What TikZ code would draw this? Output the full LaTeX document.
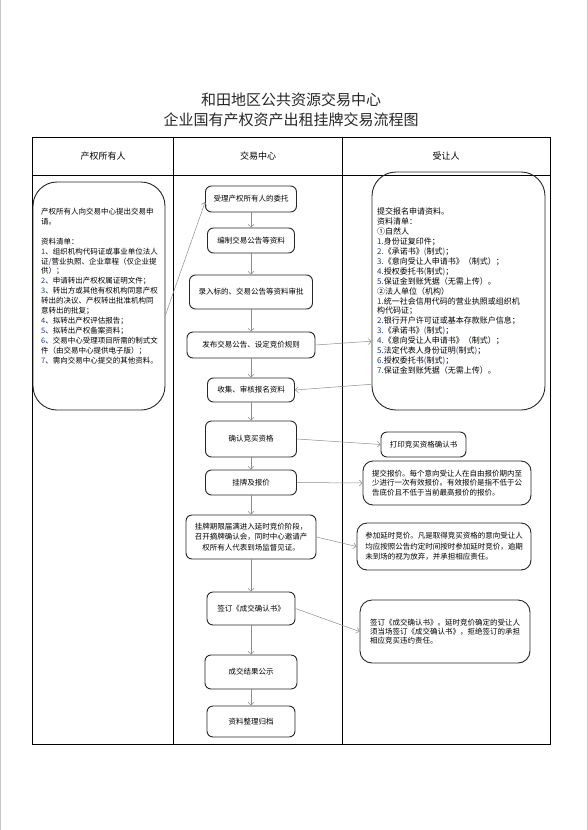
\documentclass[tikz,border=0pt]{standalone}
\usepackage{fontspec}
\setmainfont{Noto Sans CJK SC}
\usetikzlibrary{positioning, arrows.meta}
\definecolor{numblue}{RGB}{31,56,130}
\newcommand{\nb}[1]{\textcolor{numblue}{#1}}

\begin{document}
\begin{tikzpicture}[
  x=1pt, y=-1pt,
  every node/.style={font=\fontsize{7.5}{9.2}\selectfont, inner sep=0pt},
  lane/.style={black, line width=0.9pt},
  cbox/.style={draw=black!85, line width=0.9pt, rounded corners=6pt, align=center},
  rbox/.style={draw=black!85, line width=0.9pt, rounded corners=10pt, align=left},
  bigbox/.style={draw=black!85, line width=0.9pt, rounded corners=24pt},
  flow/.style={black!45, line width=0.5pt, -{Straight Barb[length=3pt,width=6pt]}},
]
\useasboundingbox (0,0) rectangle (588,830);

% page edges
\draw[black!22, line width=1.2pt] (0.6,0) -- (0.6,830);
\draw[black!22, line width=1.2pt] (587.4,0) -- (587.4,830);

% title
\node[font=\fontsize{15}{18}\selectfont, text=black!85] (title1) at (291,100) {和田地区公共资源交易中心};
\node[font=\fontsize{15}{18}\selectfont, text=black!85] (title2) at (291,120) {企业国有产权资产出租挂牌交易流程图};

% swim lanes
\draw[lane] (32,137) rectangle (550,744);
\draw[lane] (32,175) -- (550,175);
\draw[lane] (173,137) -- (173,744);
\draw[lane] (342,137) -- (342,744);
\node[font=\fontsize{9}{11}\selectfont] (hOwner)  at (103,156) {产权所有人};
\node[font=\fontsize{9}{11}\selectfont] (hCenter) at (258,156) {交易中心};
\node[font=\fontsize{9}{11}\selectfont] (hBuyer)  at (446,156) {受让人};

% owner lane
\node[bigbox, minimum width=132pt, minimum height=228pt] (owner) at (99,296) {};
\node[anchor=north west, align=left, font=\fontsize{7.5}{9.9}\selectfont] (ownertext) at (41,208)
  {产权所有人向交易中心提出交易申\\请。\\[9.9pt]
   资料清单：\\
   \nb{1}、组织机构代码证或事业单位法人\\证\nb{/}营业执照、企业章程（仅企业提\\供）；\\
   \nb{2}、申请转出产权权属证明文件；\\
   \nb{3}、转出方或其他有权机构同意产权\\转出的决议、产权转出批准机构同\\意转出的批复；\\
   \nb{4}、拟转出产权评估报告；\\
   \nb{5}、拟转出产权备案资料；\\
   \nb{6}、交易中心受理项目所需的制式文\\件（由交易中心提供电子版）；\\
   \nb{7}、需向交易中心提交的其他资料。};

% centre lane
\node[cbox, minimum width=91pt,  minimum height=26pt] (accept)  at (251,199)   {受理产权所有人的委托};
\node[cbox, minimum width=87pt,  minimum height=25pt] (compile) at (251,240.5) {编制交易公告等资料};
\node[cbox, minimum width=123pt, minimum height=34pt] (review)  at (251,292)   {录入标的、交易公告等资料审批};
\node[cbox, minimum width=128pt, minimum height=26pt] (publish) at (251,345)   {发布交易公告、设定竞价规则};
\node[cbox, minimum width=87pt,  minimum height=24pt] (collect) at (251,390)   {收集、审核报名资料};
\node[cbox, minimum width=91pt,  minimum height=36pt] (confirm) at (251,439)   {确认竞买资格};
\node[cbox, minimum width=91pt,  minimum height=25pt] (quote)   at (251,482.5) {挂牌及报价};
\node[cbox, minimum width=130pt, minimum height=44pt, font=\fontsize{7.5}{10.5}\selectfont] (extend) at (251,537)
  {挂牌期限届满进入延时竞价阶段，\\召开摘牌确认会，同时中心邀请产\\权所有人代表到场监督见证。};
\node[cbox, minimum width=88pt,  minimum height=33pt] (sign)    at (251,608.5) {签订《成交确认书》};
\node[cbox, minimum width=92pt,  minimum height=34pt] (notice)  at (251,672)   {成交结果公示};
\node[cbox, minimum width=88pt,  minimum height=31pt] (archive) at (251,721.5) {资料整理归档};

% buyer lane
\node[bigbox, minimum width=173pt, minimum height=238pt] (apply) at (458.5,291) {};
\node[anchor=north west, align=left, font=\fontsize{8}{9.9}\selectfont] (applytext) at (377,208)
  {提交报名申请资料。\\
   资料清单：\\
   ①自然人\\
   \nb{1.}身份证复印件；\\
   \nb{2.}《承诺书》\nb{(}制式\nb{)}；\\
   \nb{3.}《意向受让人申请书》（制式）；\\
   \nb{4.}授权委托书\nb{(}制式\nb{)}；\\
   \nb{5.}保证金到账凭据（无需上传）。\\
   ②法人单位（机构）\\
   \nb{1.}统一社会信用代码的营业执照或组织机\\构代码证；\\
   \nb{2.}银行开户许可证或基本存款账户信息；\\
   \nb{3.}《承诺书》\nb{(}制式\nb{)}；\\
   \nb{4.}《意向受让人申请书》（制式）；\\
   \nb{5.}法定代表人身份证明\nb{(}制式\nb{)}；\\
   \nb{6.}授权委托书\nb{(}制式\nb{)}；\\
   \nb{7.}保证金到账凭据（无需上传）。};
\node[cbox, minimum width=85pt, minimum height=25pt] (print) at (423.5,444.5) {打印竞买资格确认书};
\node[rbox, minimum width=168pt, minimum height=44pt] (offer) at (447,483)
  {提交报价。每个意向受让人在自由报价期内至\\少进行一次有效报价。有效报价是指不低于公\\告底价且不低于当前最高报价的报价。};
\node[rbox, minimum width=174pt, minimum height=47pt, font=\fontsize{7.5}{10.3}\selectfont] (delay) at (444,546.5)
  {参加延时竞价。凡是取得竞买资格的意向受让人\\均应按照公告约定时间按时参加延时竞价，逾期\\未到场的视为放弃，并承担相应责任。};
\node[rbox, minimum width=170pt, minimum height=63pt, rounded corners=12pt] (deal) at (445,631.5)
  {签订《成交确认书》。延时竞价确定的受让人\\须当场签订《成交确认书》，拒绝签订的承担\\相应竞买违约责任。};

% main flow
\foreach \a/\b in {accept/compile, compile/review, review/publish, publish/collect,
                   collect/confirm, confirm/quote, quote/extend, extend/sign,
                   sign/notice, notice/archive}
  \draw[flow] (\a.south) -- (\b.north);

% cross-lane links
\draw[flow] (owner.-16) -- (accept.184);
\draw[flow] (publish.east) -- (apply.210);
\draw[flow] (apply.227) -- (collect.east);
\draw[flow] (confirm.east) -- (print.west);
\draw[flow] (quote.east) -- (offer.west);
\draw[flow] (extend.east) -- (delay.west);
\draw[flow] (sign.east) -- (deal.west);
\end{tikzpicture}
\end{document}
